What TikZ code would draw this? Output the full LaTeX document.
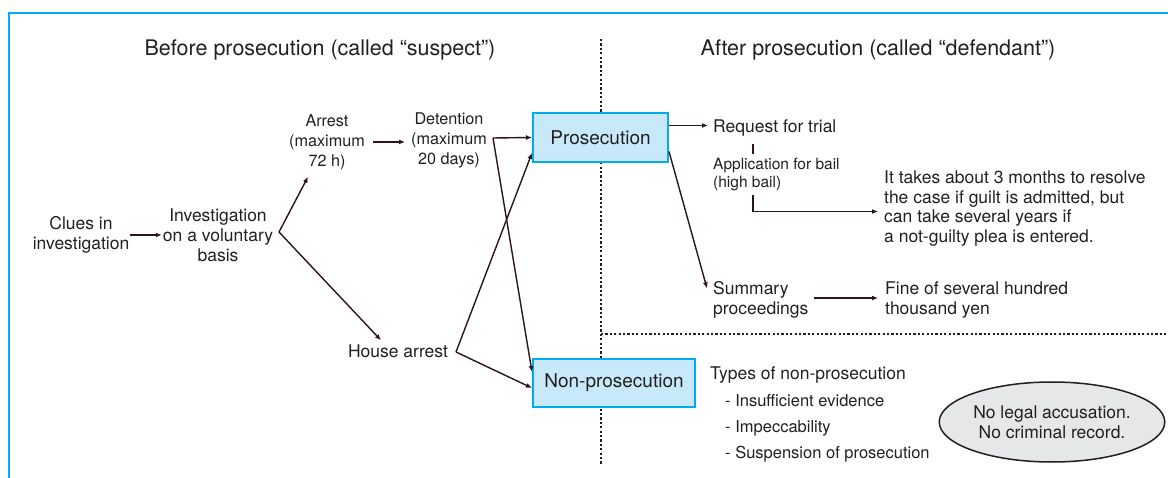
\documentclass[tikz,border=0pt]{standalone}
\usepackage{fontspec}
\setmainfont{TeX Gyre Heros}
\usetikzlibrary{arrows.meta, shapes.geometric, positioning}
\definecolor{lineblue}{RGB}{0,174,239}
\definecolor{boxblue}{RGB}{200,233,249}
\definecolor{ink}{RGB}{35,31,32}
\definecolor{arrowink}{RGB}{45,20,28}
\definecolor{ovalgray}{RGB}{230,231,232}
\newcommand{\titlesz}{\fontsize{21.5}{25}\selectfont}
\newcommand{\textsz}{\fontsize{17.5}{20}\selectfont}
\newcommand{\custodysz}{\fontsize{16.2}{20}\selectfont}
\newcommand{\boxsz}{\fontsize{19}{22}\selectfont}
\newcommand{\notesz}{\fontsize{15.5}{18}\selectfont}
\newcommand{\listsz}{\fontsize{16.5}{26}\selectfont}

\begin{document}
\begin{tikzpicture}[x=1pt,y=-1pt,
  every node/.style={text=ink, inner sep=1pt},
  plain/.style={font=\textsz, align=center},
  lefttext/.style={font=\textsz, align=left, anchor=west},
  stage/.style={draw=lineblue, fill=boxblue, line width=2pt, font=\boxsz, minimum height=49pt},
  flow/.style={draw=arrowink, line width=1.4pt, -{Latex[length=6pt,width=5pt]}},
  link/.style={draw=arrowink, line width=1.4pt},
  divider/.style={draw=ink, line width=2.4pt, dash pattern=on 2.2pt off 2.2pt},
  frame/.style={draw=lineblue, line width=2.5pt}]
 \useasboundingbox (0,0) rectangle (1168,478);
 \draw[frame] (9,478) -- (9,13) -- (1168,13);
 \draw[divider] (601,39) -- (601,465);
 \draw[divider] (601,334) -- (1168,334);

 \node[plain, font=\titlesz] (before) at (320,50) {Before prosecution (called “suspect”)};
 \node[plain, font=\titlesz] (after) at (878,50) {After prosecution (called “defendant”)};

 % before prosecution
 \node[plain] (clues) at (81,235) {Clues in\\investigation};
 \node[plain] (invest) at (218,235) {Investigation\\on a voluntary\\basis};
 \node[plain, font=\custodysz] (arrest) at (327,142) {Arrest\\(maximum\\72 h)};
 \node[plain, font=\custodysz] (detent) at (449,140) {Detention\\(maximum\\20 days)};
 \node[plain] (house) at (398,351) {House arrest};
 \node[stage, minimum width=135pt] (pros) at (600.5,137.5) {Prosecution};
 \node[stage, minimum width=162pt, minimum height=48pt] (nonpros) at (614,383) {Non-prosecution};

 % after prosecution
 \node[lefttext] (request) at (712,128) {Request for trial};
 \node[lefttext, font=\notesz, anchor=north west] (bail) at (712,157) {Application for bail\\(high bail)};
 \node[lefttext, font=\fontsize{17.5}{19.7}\selectfont] (takes) at (883,208.5) {It takes about 3 months to resolve\\the case if guilt is admitted, but\\can take several years if\\a not-guilty plea is entered.};
 \node[lefttext] (summary) at (712,300) {Summary\\proceedings};
 \node[lefttext] (fine) at (884,300) {Fine of several hundred\\thousand yen};
 \node[lefttext] (types) at (709,375) {Types of non-prosecution};
 \node[lefttext, font=\listsz] (reasons) at (724,428) {- Insufficient evidence\\- Impeccability\\- Suspension of prosecution};
 \node[ellipse, draw=ink, fill=ovalgray, line width=1.5pt, minimum width=200pt, minimum height=80pt, font=\textsz, align=center] (record) at (1052,422) {No legal accusation.\\No criminal record.};

 \coordinate (invfork) at (279,232);
 \coordinate (detfork) at (493,138);
 \coordinate (housefork) at (456,352);
 \coordinate (bailx) at (753,0);

 \draw[flow] (clues.east) -- (invest.west);
 \draw[flow] (invfork) -- ([xshift=-19pt,yshift=-6pt]arrest.south);
 \draw[flow] (invfork) -- ([xshift=-17pt,yshift=3pt]house.north);
 \draw[flow, shorten <=7pt, shorten >=5pt] (arrest.east) -- (arrest.east -| detent.west);
 \draw[flow] (detfork) -- (pros.west);
 \draw[flow] (detfork) -- ([yshift=-14pt]nonpros.north west);
 \draw[flow] (housefork) -- ([yshift=10pt]pros.south west);
 \draw[flow] (housefork) -- ([yshift=-5pt]nonpros.west);
 \draw[flow, shorten >=4pt] ([yshift=12pt]pros.east) -- ([yshift=12pt]pros.east -| request.west);
 \draw[flow] ([yshift=-14pt]pros.east) -- ([xshift=-5pt,yshift=-8pt]summary.north west);
 \draw[link, shorten <=6pt, shorten >=3pt] (request.south -| bailx) -- (bail.north -| bailx);
 \draw[flow, shorten <=3pt, shorten >=5pt] (bail.south -| bailx) |- ([yshift=-3pt]takes.west);
 \draw[flow, shorten <=4pt, shorten >=6pt] ([yshift=2pt]summary.east) -- ([yshift=2pt]summary.east -| fine.west);
\end{tikzpicture}
\end{document}
